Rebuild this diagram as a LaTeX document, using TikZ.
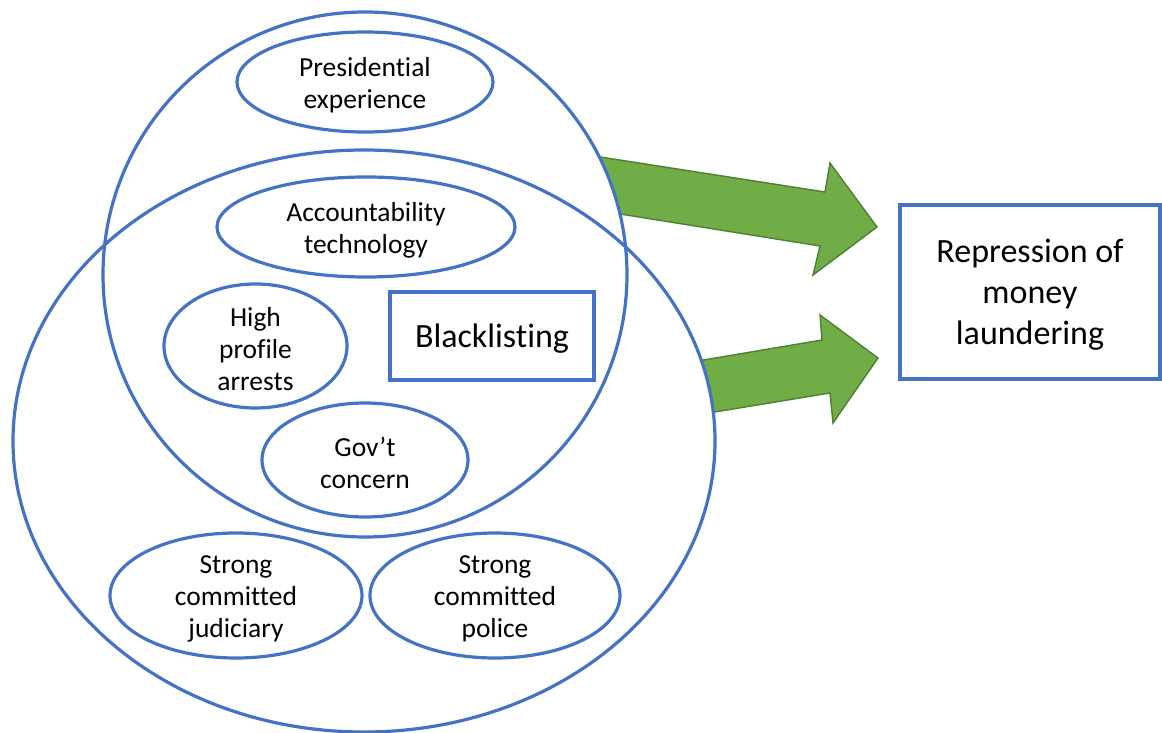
\documentclass[tikz,border=0pt]{standalone}
\usepackage{fontspec}
\setmainfont{Carlito}[Ligatures={NoCommon}]
\usetikzlibrary{shapes.geometric}
\definecolor{oblue}{HTML}{4472C4}
\definecolor{ogreen}{HTML}{70AD47}
\definecolor{ogreenD}{HTML}{507E32}
\begin{document}
\begin{tikzpicture}[x=1pt,y=-1pt,
  oval/.style={ellipse, draw=oblue, line width=3.2pt, inner sep=0pt},
  txt/.style={font=\fontsize{27.5}{32}\selectfont, align=center, text=black, yshift=-3pt},
  bigtxt/.style={font=\fontsize{34}{41}\selectfont, align=center, text=black, yshift=-3pt},
  boxnode/.style={rectangle, draw=oblue, line width=3.2pt, inner sep=0pt},
  garrow/.style={fill=ogreen, draw=ogreenD, line width=1.4pt, line join=miter}]
\useasboundingbox (0,0) rectangle (1162,733);
% green block arrows (behind the big ellipses)
\draw[garrow] (560,150.7) -- (825,192) -- (830,163) -- (877,227) -- (813,275) -- (820,246) -- (560,204.4) -- cycle;
\draw[garrow] (650,369) -- (822,340) -- (820,315) -- (878,358) -- (833,423) -- (830,393) -- (650,422.7) -- cycle;
% white fills of the two big ellipses
\fill[white] (365,274.5) ellipse [x radius=262pt, y radius=262.5pt];
\fill[white] (364,441) ellipse [x radius=351pt, y radius=291pt];
% big ellipses
\node[oval, minimum width=524pt, minimum height=525pt] (upper) at (365,274.5) {};
\node[oval, minimum width=702pt, minimum height=582pt] (lower) at (364,441) {};
% inner ellipses
\node[oval, minimum width=256pt, minimum height=100pt, label={[txt]center:Presidential\\experience}] (pres) at (365,82) {};
\node[oval, minimum width=298pt, minimum height=100pt, label={[txt]center:Accountability\\technology}] (acct) at (366,227) {};
\node[oval, minimum width=183pt, minimum height=124pt, label={[txt]center:High\\profile\\arrests}] (high) at (255.5,346) {};
\node[oval, minimum width=206pt, minimum height=114pt, label={[txt]center:Gov’t\\concern}] (gov) at (365,460) {};
\node[oval, minimum width=252pt, minimum height=125pt, label={[txt]center:Strong\\committed\\judiciary}] (jud) at (236,595.5) {};
\node[oval, minimum width=250pt, minimum height=125pt, label={[txt]center:Strong\\committed\\police}] (pol) at (495,595.5) {};
% boxes
\node[boxnode, minimum width=204pt, minimum height=88pt, label={[bigtxt]center:Blacklisting}] (black) at (492,336) {};
\node[boxnode, minimum width=260pt, minimum height=174pt, label={[bigtxt]center:Repression of\\money\\laundering}] (repr) at (1030,292) {};
\end{tikzpicture}
\end{document}
